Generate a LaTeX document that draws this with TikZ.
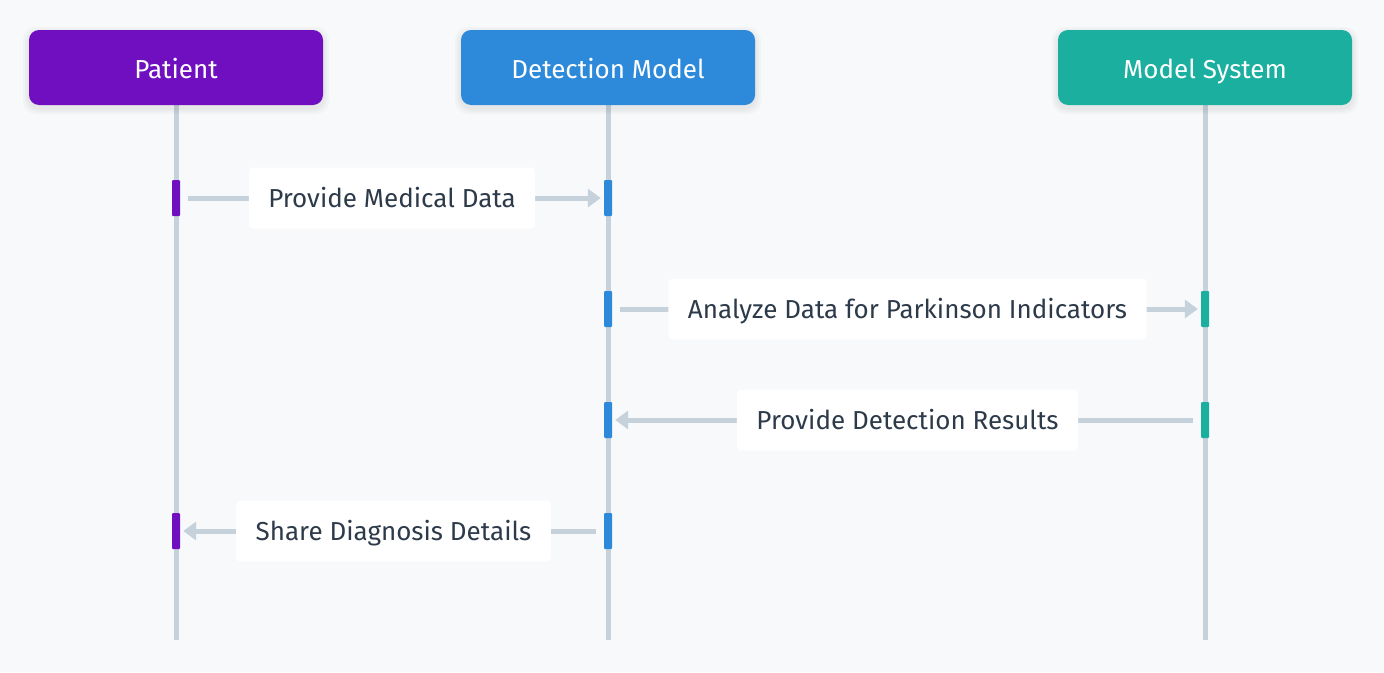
\documentclass[tikz,border=0pt]{standalone}
\usepackage{fontspec}
\setmainfont{Fira Sans}
\usetikzlibrary{arrows.meta}
\definecolor{bg}{HTML}{F8F9FA}
\definecolor{cpat}{HTML}{6F0FBF}
\definecolor{cdet}{HTML}{2D8ADA}
\definecolor{csys}{HTML}{1BAF9F}
\definecolor{cline}{HTML}{C5D2DC}
\definecolor{ctext}{HTML}{2D3A4A}
\tikzset{
  header/.style={draw=none, fill=#1, rounded corners=10pt, minimum width=294pt, minimum height=75pt, text=white, font=\fontsize{26}{30}\selectfont, inner sep=0pt, text height=22pt, text depth=0pt},
  shadowbox/.style={fill=black, opacity=0.025, rounded corners=13pt},
  lifeline/.style={draw=cline, line width=5pt},
  actbar/.style={fill=#1, draw=none, rounded corners=1pt, minimum width=8pt, minimum height=36pt, inner sep=0pt},
  msg/.style={draw=cline, line width=5pt, -{Triangle[length=13pt,width=18pt]}},
  lbl/.style={fill=white, rounded corners=4pt, text=ctext, font=\fontsize{26}{30}\selectfont, minimum height=61pt, inner xsep=19.5pt, inner ysep=0pt, text height=18pt, text depth=0pt}
}
\begin{document}
\begin{tikzpicture}[x=1pt,y=-1pt]
\useasboundingbox (0,0) rectangle (1384,672);
\fill[bg] (0,0) rectangle (1384,672);
% lifelines
\coordinate (pt) at (176,105); \coordinate (pb) at (176,640);
\coordinate (dt) at (608,105); \coordinate (db) at (608,640);
\coordinate (st) at (1205,105); \coordinate (sb) at (1205,640);
\draw[lifeline] (pt) -- (pb);
\draw[lifeline] (dt) -- (db);
\draw[lifeline] (st) -- (sb);
% header shadows
\foreach \cx in {176,608,1205}{
  \foreach \g in {2,4,6}{
    \fill[shadowbox] (\cx-147-\g,30-\g+3) rectangle (\cx+147+\g,105+\g+3);
  }
}
% headers
\node[header=cpat] (pat) at (176,67.5) {Patient};
\node[header=cdet] (det) at (608,67.5) {Detection Model};
\node[header=csys] (sys) at (1205,67.5) {Model System};
% activation bars
\node[actbar=cpat] (a1) at (176,198) {};
\node[actbar=cdet] (b1) at (608,198) {};
\node[actbar=cdet] (b2) at (608,309) {};
\node[actbar=csys] (c2) at (1205,309) {};
\node[actbar=csys] (c3) at (1205,420) {};
\node[actbar=cdet] (b3) at (608,420) {};
\node[actbar=cdet] (b4) at (608,531) {};
\node[actbar=cpat] (a4) at (176,531) {};
% messages
\draw[msg] ([xshift=8pt]a1.east) -- ([xshift=-3pt]b1.west);
\draw[msg] ([xshift=8pt]b2.east) -- ([xshift=-3pt]c2.west);
\draw[msg] ([xshift=-8pt]c3.west) -- ([xshift=3pt]b3.east);
\draw[msg] ([xshift=-8pt]b4.west) -- ([xshift=3pt]a4.east);
% labels
\node[lbl] (l1) at (392,198) {Provide Medical Data};
\node[lbl] (l2) at (907.5,309) {Analyze Data for Parkinson Indicators};
\node[lbl] (l3) at (907.5,420) {Provide Detection Results};
\node[lbl] (l4) at (393.5,531) {Share Diagnosis Details};
\end{tikzpicture}
\end{document}
